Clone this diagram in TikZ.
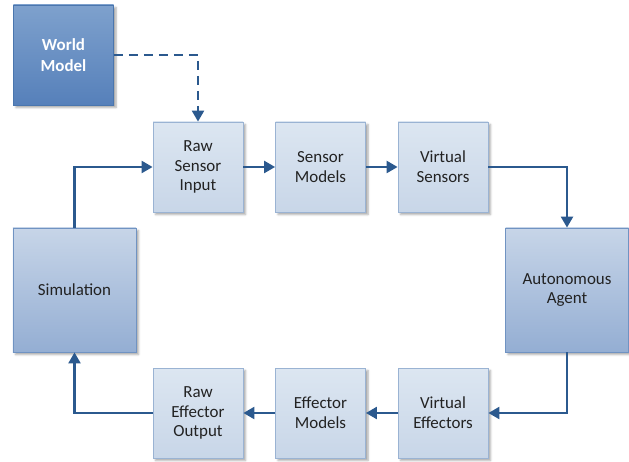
\documentclass[tikz,border=0pt]{standalone}
\usepackage{fontspec}
\setmainfont{Carlito}
\usetikzlibrary{arrows.meta,shadows.blur}

\definecolor{linkblue}{HTML}{2B598E}
\definecolor{lightTop}{HTML}{DCE6F1}
\definecolor{lightBot}{HTML}{C8D6E8}
\definecolor{lightEdge}{HTML}{9AB3D3}
\definecolor{midTop}{HTML}{C7D5E8}
\definecolor{midBot}{HTML}{94AED3}
\definecolor{midEdge}{HTML}{7093C2}
\definecolor{darkTop}{HTML}{7EA1CD}
\definecolor{darkBot}{HTML}{5680BA}
\definecolor{darkEdge}{HTML}{4A76AE}
\definecolor{textgrey}{HTML}{222222}

\tikzset{
  x=1bp, y=-1bp,
  boxbase/.style={rectangle, align=center, inner sep=2bp, line width=0.8bp,
    font=\fontsize{17}{20}\selectfont, text=textgrey,
    blur shadow={shadow xshift=2.5bp, shadow yshift=-2.5bp, shadow blur radius=2bp, shadow opacity=35}},
  smallbox/.style={boxbase, draw=lightEdge, top color=lightTop, bottom color=lightBot,
    minimum width=90bp, minimum height=90bp},
  bigbox/.style={boxbase, draw=midEdge, top color=midTop, bottom color=midBot,
    minimum width=123bp, minimum height=124bp},
  worldbox/.style={boxbase, draw=darkEdge, top color=darkTop, bottom color=darkBot,
    minimum width=100bp, minimum height=100bp, text=white,
    font=\fontsize{17}{20.5}\selectfont\bfseries},
  conn/.style={draw=linkblue, line width=2.3bp,
    -{Triangle[length=11bp,width=12bp]}},
  dashconn/.style={conn, dash pattern=on 9bp off 6bp}
}

\begin{document}
\begin{tikzpicture}
\useasboundingbox (0,0) rectangle (629,462);

% upper row: sensing path
\node[worldbox] (world) at (63.5,55) {World\\Model};
\node[smallbox] (rsi) at (198,167) {Raw\\Sensor\\Input};
\node[smallbox] (sm)  at (320.5,167) {Sensor\\Models};
\node[smallbox] (vs)  at (443,167) {Virtual\\Sensors};

% side blocks
\node[bigbox] (sim)   at (74.5,290) {Simulation};
\node[bigbox] (agent) at (567,290) {Autonomous\\Agent};

% lower row: acting path
\node[smallbox] (reo) at (198,413) {Raw\\Effector\\Output};
\node[smallbox] (em)  at (320.5,413) {Effector\\Models};
\node[smallbox] (ve)  at (443,413) {Virtual\\Effectors};

% connectors
\draw[dashconn] (world.east) -| (rsi.north);
\draw[conn] (sim.north) |- (rsi.west);
\draw[conn] (rsi.east) -- (sm.west);
\draw[conn] (sm.east) -- (vs.west);
\draw[conn] (vs.east) -| (agent.north);
\draw[conn] (agent.south) |- (ve.east);
\draw[conn] (ve.west) -- (em.east);
\draw[conn] (em.west) -- (reo.east);
\draw[conn] (reo.west) -| (sim.south);
\end{tikzpicture}
\end{document}
